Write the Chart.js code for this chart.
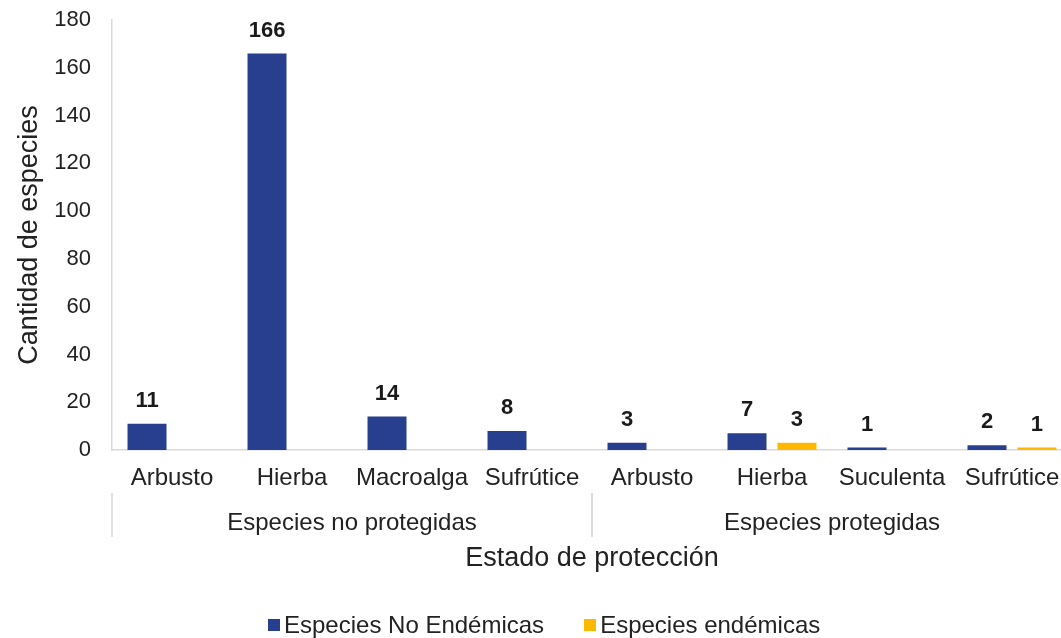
<!DOCTYPE html>
<html>
<head>
<meta charset="utf-8">
<script src="https://cdn.jsdelivr.net/npm/chart.js@4/dist/chart.umd.min.js"></script>
<style>
  html, body { margin: 0; padding: 0; background: #fff; overflow: hidden; }
  #wrap { position: relative; width: 1080px; height: 638px; }
  #legend { position: absolute; left: 268px; top: 611px; display: flex; align-items: center;
            font: 24px "Liberation Sans", Arial, sans-serif; color: #222; white-space: nowrap; }
  #legend .item { display: flex; align-items: center; margin-right: 40px; }
  #legend .box { width: 12px; height: 12px; margin-right: 4px; }
</style>
</head>
<body>
<div id="wrap">
  <canvas id="chart" width="1080" height="638"></canvas>
  <div id="legend"></div>
</div>
<script>
// ----- Données -----
const categories = ['Arbusto', 'Hierba', 'Macroalga', 'Sufrútice', 'Arbusto', 'Hierba', 'Suculenta', 'Sufrútice'];
const groups = ['Especies no protegidas', 'Especies protegidas'];
const groupSizes = [4, 4];
const noEndemicas = [11, 166, 14, 8, 3, 7, 1, 2];
const endemicas = [null, null, null, null, null, 3, null, 1];
const yTicks = [0, 20, 40, 60, 80, 100, 120, 140, 160, 180];

const FONT = '"Liberation Sans", Arial, sans-serif';
const BLUE = '#283F8F';
const YELLOW = '#FFB800';
const GRAY = '#d9d9d9';

// ----- Étiquettes de valeur + groupes -----
const extras = {
  id: 'extras',
  afterDatasetsDraw(chart) {
    const ctx = chart.ctx;
    ctx.save();
    ctx.fillStyle = '#1a1a1a';
    ctx.font = 'bold 22px ' + FONT;
    ctx.textAlign = 'center';
    ctx.textBaseline = 'middle';
    chart.data.datasets.forEach((ds, i) => {
      chart.getDatasetMeta(i).data.forEach((el, j) => {
        if (ds.data[j] == null) return;
        ctx.fillText(String(ds.data[j]), el.x, el.y - 23);
      });
    });
    ctx.restore();
  },
  afterDraw(chart) {
    const ctx = chart.ctx;
    const x = chart.scales.x;
    const step = x.getPixelForValue(1) - x.getPixelForValue(0);
    ctx.save();
    ctx.strokeStyle = GRAY;
    ctx.lineWidth = 1.5;
    ctx.fillStyle = '#222';
    ctx.font = '24px ' + FONT;
    ctx.textAlign = 'center';
    ctx.textBaseline = 'middle';
    let start = 0;
    groups.forEach((g, gi) => {
      const x0 = x.getPixelForValue(start) - step / 2;
      const x1 = x.getPixelForValue(start + groupSizes[gi] - 1) + step / 2;
      [x0, x1].forEach(px => {
        ctx.beginPath();
        ctx.moveTo(px, 493);
        ctx.lineTo(px, 537);
        ctx.stroke();
      });
      ctx.fillText(g, (x0 + x1) / 2, 523);
      start += groupSizes[gi];
    });
    ctx.restore();
  }
};

const datasets = [
  { label: 'Especies No Endémicas', data: noEndemicas, backgroundColor: BLUE },
  { label: 'Especies endémicas', data: endemicas, backgroundColor: YELLOW }
];

new Chart(document.getElementById('chart'), {
  type: 'bar',
  data: { labels: categories, datasets },
  options: {
    responsive: false,
    animation: false,
    categoryPercentage: 0.833,
    barPercentage: 0.78,
    layout: { padding: { top: 20, right: 8, left: 0, bottom: 0 } },
    plugins: { legend: { display: false }, tooltip: { enabled: false } },
    scales: {
      x: {
        grid: { display: false, drawTicks: false },
        border: { display: true, color: GRAY, width: 1.5 },
        ticks: { color: '#222', font: { family: FONT, size: 24 }, padding: 14, maxRotation: 0, autoSkip: false },
        title: { display: true, text: 'Estado de protección', color: '#222',
                 font: { family: FONT, size: 27 }, padding: { top: 0, bottom: 63 } },
        afterFit: s => { s.height = 188; }
      },
      y: {
        min: 0, max: 180,
        afterBuildTicks: s => { s.ticks = yTicks.map(v => ({ value: v })); },
        grid: { display: false, drawTicks: false },
        border: { display: true, color: GRAY, width: 1.5 },
        ticks: { color: '#222', font: { family: FONT, size: 22 }, padding: 21 },
        title: { display: true, text: 'Cantidad de especies', color: '#222',
                 font: { family: FONT, size: 27 }, padding: { top: 13, bottom: 0 } },
        afterFit: s => { s.width = 112; s.paddingTop = 0; s.paddingBottom = 0; }
      }
    }
  },
  plugins: [extras]
});

// ----- Légende -----
const legendEl = document.getElementById('legend');
datasets.forEach(ds => {
  const item = document.createElement('div');
  item.className = 'item';
  item.innerHTML = '<span class="box" style="background:' + ds.backgroundColor + '"></span>' + ds.label;
  legendEl.appendChild(item);
});
</script>
</body>
</html>
